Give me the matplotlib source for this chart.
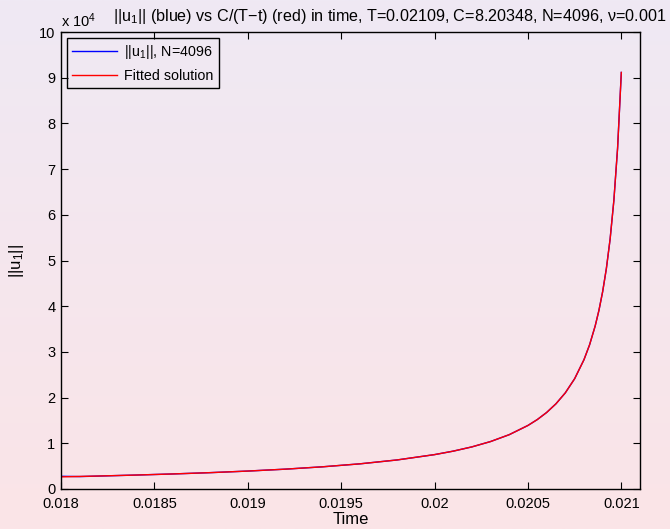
import numpy as np
import matplotlib
matplotlib.use("Agg")
import matplotlib.pyplot as plt
from matplotlib.ticker import FuncFormatter, MultipleLocator

plt.rcParams['font.family'] = ['Liberation Sans', 'DejaVu Sans']
plt.rcParams['mathtext.fontset'] = 'custom'
plt.rcParams['mathtext.rm'] = 'Liberation Sans'
plt.rcParams['mathtext.it'] = 'Liberation Sans'

# Data
time = [0.0180, 0.0181, 0.0182, 0.0184, 0.0186, 0.0188, 0.0190, 0.0192, 0.0194,
        0.0196, 0.0198, 0.0200, 0.0201, 0.0202, 0.0203, 0.0204, 0.0205,
        0.02055, 0.0206, 0.02065, 0.0207, 0.02075, 0.0208, 0.02083, 0.02086,
        0.02088, 0.0209, 0.02092, 0.02094, 0.02096, 0.02098, 0.0210]
norm_u1 = [2780, 2720, 2830, 3050, 3295, 3580, 3925, 4340, 4855,
           5505, 6360, 7525, 8285, 9215, 10385, 11890, 13905,
           15190, 16740, 18645, 21035, 24130, 28290, 31550, 35670,
           39065, 43175, 48255, 54690, 63105, 74575, 91150]
fitted = [2655, 2745, 2840, 3050, 3295, 3580, 3925, 4340, 4855,
          5505, 6360, 7525, 8285, 9215, 10385, 11890, 13905,
          15190, 16740, 18645, 21035, 24130, 28290, 31550, 35670,
          39065, 43175, 48255, 54690, 63105, 74575, 91150]

W, H = 670, 529
fig = plt.figure(figsize=(W/100, H/100), dpi=100)

# gradient background
bg = fig.add_axes([0, 0, 1, 1], zorder=-10)
top = np.array([239, 233, 244]) / 255
bot = np.array([251, 228, 231]) / 255
t = np.linspace(0, 1, 256)[:, None]
grad = top[None, :] * (1 - t) + bot[None, :] * t
bg.imshow(grad[:, None, :], aspect='auto', extent=[0, 1, 0, 1])
bg.axis('off')

ax = fig.add_axes([61/W, 1 - 489/H, (640-61)/W, (489-32)/H])
ax.set_facecolor('none')
ax.plot(time, norm_u1, color='blue', lw=1.0, label='||u$_1$||, N=4096')
ax.plot(time, fitted, color='red', lw=1.0, label='Fitted solution')

ax.set_xlim(0.018, 0.0211)
ax.set_ylim(0, 1e5)
ax.xaxis.set_major_locator(MultipleLocator(0.0005))
ax.yaxis.set_major_locator(MultipleLocator(1e4))
ax.xaxis.set_major_formatter(FuncFormatter(lambda v, p: ('%g' % round(v, 5))))
ax.yaxis.set_major_formatter(FuncFormatter(lambda v, p: '%d' % round(v/1e4)))
ax.tick_params(direction='in', length=5, width=0.8, top=True, right=True,
               labelsize=10.5, colors='black')
ax.tick_params(axis='x', pad=6)
ax.tick_params(axis='y', pad=4)
for s in ax.spines.values():
    s.set_linewidth(1.0)
    s.set_color('black')

fig.text(351/W, 1 - 520/H, 'Time', ha='center', va='center', fontsize=12)
fig.text(17/W, 1 - 261/H, '||u$_1$||', ha='center', va='center', fontsize=12,
         rotation=90)

fig.text(390/W, 1 - 17/H,
         '||u$_1$|| (blue) vs C/(T\u2212t) (red) in time, T=0.02109, C=8.20348, N=4096, \u03bd=0.001',
         ha='center', va='center', fontsize=11.6)
fig.text(61/W, 1 - 21/H, 'x 10$^4$', ha='left', va='center', fontsize=10.5)

leg = ax.legend(loc='upper left', fontsize=10.3, frameon=True, fancybox=False,
                edgecolor='black', facecolor='none', framealpha=1,
                handlelength=3.1, borderpad=0.4, labelspacing=0.5,
                borderaxespad=0.4, handletextpad=0.5)
leg.get_frame().set_linewidth(1.0)

fig.savefig('out.png', dpi=100)
